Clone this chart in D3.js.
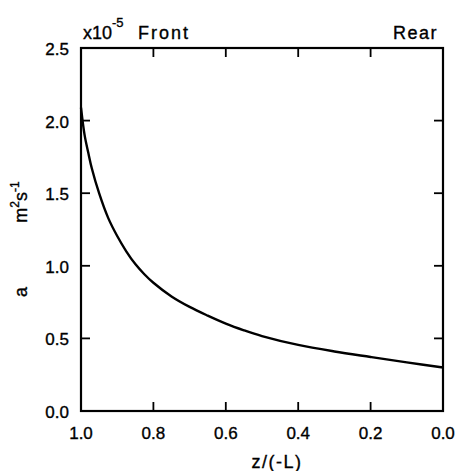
<!DOCTYPE html>
<html>
<head>
<meta charset="utf-8">
<script src="https://cdn.jsdelivr.net/npm/d3@7"></script>
<style>
  body { margin: 0; background: #fff; }
  text { font-family: "Liberation Sans", Arial, sans-serif; fill: #000; stroke: #000; stroke-width: 0.35; }
</style>
</head>
<body>
<svg id="chart" width="459" height="471"></svg>
<script>
// Data (a in units of 1e-5 m^2 s^-1 vs z/(-L))
const zPos = [1.0, 0.99, 0.98, 0.97, 0.95, 0.925, 0.9, 0.875, 0.85, 0.825, 0.8, 0.75, 0.7, 0.65, 0.6, 0.55, 0.5, 0.4, 0.3, 0.2, 0.1, 0.0];
const aVal = [2.09, 1.90, 1.78, 1.67, 1.50, 1.33, 1.205, 1.10, 1.012, 0.942, 0.883, 0.789, 0.717, 0.657, 0.602, 0.556, 0.516, 0.455, 0.41, 0.372, 0.335, 0.30];
const xTicks = [1.0, 0.8, 0.6, 0.4, 0.2, 0.0];
const yTicks = [0.0, 0.5, 1.0, 1.5, 2.0, 2.5];

const svg = d3.select("#chart");
const pLeft = 81, pRight = 443, pTop = 48, pBottom = 411;

const x = d3.scaleLinear().domain([1.0, 0.0]).range([pLeft, pRight]);
const y = d3.scaleLinear().domain([0, 2.5]).range([pBottom, pTop]);

const fmt = d3.format(".1f");

// Frame
svg.append("rect")
  .attr("x", pLeft).attr("y", pTop)
  .attr("width", pRight - pLeft).attr("height", pBottom - pTop)
  .attr("fill", "none").attr("stroke", "#000").attr("stroke-width", 2.2);

const innerX = xTicks.slice(1, -1);
const innerY = yTicks.slice(1, -1);
const tl = 9;

// Inward ticks on all four sides
const g = svg.append("g").attr("stroke", "#000").attr("stroke-width", 1.8);
innerX.forEach(v => {
  g.append("line").attr("x1", x(v)).attr("x2", x(v)).attr("y1", pBottom).attr("y2", pBottom - tl);
  g.append("line").attr("x1", x(v)).attr("x2", x(v)).attr("y1", pTop).attr("y2", pTop + tl);
});
innerY.forEach(v => {
  g.append("line").attr("y1", y(v)).attr("y2", y(v)).attr("x1", pLeft).attr("x2", pLeft + tl);
  g.append("line").attr("y1", y(v)).attr("y2", y(v)).attr("x1", pRight).attr("x2", pRight - tl);
});

// Tick labels
svg.append("g").selectAll("text").data(xTicks).join("text")
  .attr("x", d => x(d)).attr("y", 439)
  .attr("text-anchor", "middle").attr("font-size", 17)
  .text(d => fmt(d));

svg.append("g").selectAll("text").data(yTicks).join("text")
  .attr("x", 69).attr("y", d => y(d) + 7)
  .attr("text-anchor", "end").attr("font-size", 17)
  .text(d => fmt(d));

// Curve
const pts = zPos.map((z, i) => [z, aVal[i]]);
svg.append("path")
  .datum(pts)
  .attr("fill", "none").attr("stroke", "#000").attr("stroke-width", 2.4)
  .attr("d", d3.line().x(d => x(d[0])).y(d => y(d[1])).curve(d3.curveCatmullRom.alpha(0.5)));

// Top annotations
const t1 = svg.append("text").attr("x", 83).attr("y", 39).attr("font-size", 18);
t1.append("tspan").text("x10");
t1.append("tspan").attr("font-size", 13).attr("dy", -12).text("-5");
svg.append("text").attr("x", 138).attr("y", 39).attr("font-size", 18)
  .attr("letter-spacing", 2).text("Front");
svg.append("text").attr("x", 393).attr("y", 39).attr("font-size", 18)
  .attr("letter-spacing", 1.5).text("Rear");

// Axis titles
svg.append("text").attr("x", 277).attr("y", 468).attr("text-anchor", "middle")
  .attr("font-size", 18).attr("letter-spacing", 1.5).text("z/(-L)");

const yl = svg.append("text").attr("transform", "translate(27,202) rotate(-90)")
  .attr("text-anchor", "middle").attr("font-size", 18);
yl.append("tspan").text("m");
yl.append("tspan").attr("font-size", 12).attr("dy", -8).text("2");
yl.append("tspan").attr("font-size", 18).attr("dy", 8).text("s");
yl.append("tspan").attr("font-size", 12).attr("dy", -8).text("-1");

svg.append("text").attr("transform", "translate(27,292) rotate(-90)")
  .attr("text-anchor", "middle").attr("font-size", 18).text("a");
</script>
</body>
</html>
